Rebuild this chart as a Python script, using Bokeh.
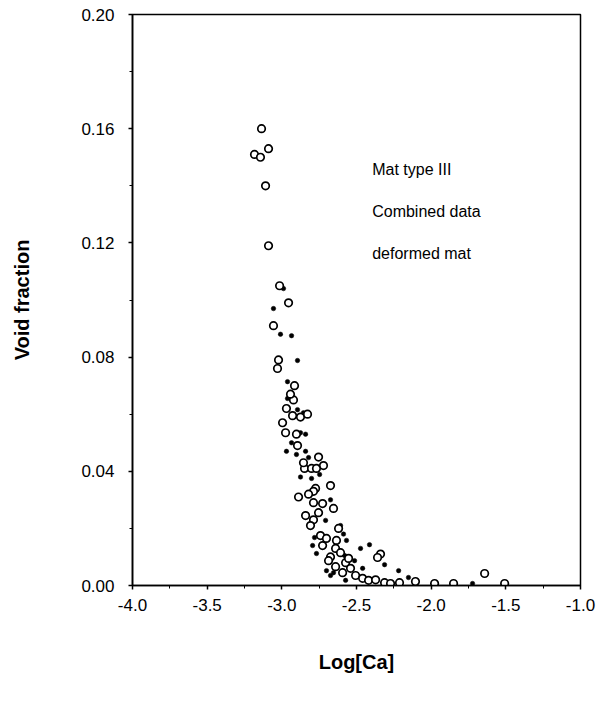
from bokeh.plotting import figure
from bokeh.models import Range1d, SingleIntervalTicker, NumeralTickFormatter, Label, ColumnDataSource
from bokeh.embed import file_html
from bokeh.resources import INLINE

# Open circles: Log[Ca], void fraction
open_x = [-3.136, -3.183, -3.143, -3.089, -3.109, -3.089, -3.015, -2.955, -3.056, -3.022,
          -3.029, -2.915, -2.922, -2.969, -2.928, -2.875, -2.828, -2.995, -2.975, -2.895,
          -2.754, -2.721, -2.848, -2.801, -2.768, -2.674, -2.774, -2.788, -2.888, -2.821,
          -2.788, -2.727, -2.654, -2.754, -2.841, -2.788, -2.808, -2.741, -2.701, -2.634,
          -2.727, -2.640, -2.674, -2.607, -2.339, -2.359, -2.573, -2.540, -2.640, -2.506,
          -2.459, -2.419, -2.372, -2.312, -2.272, -2.212, -2.105, -1.977, -1.850, -1.642,
          -1.508, -2.593, -2.687, -2.553, -2.620, -2.902, -2.855, -2.942]
open_y = [0.160, 0.151, 0.150, 0.153, 0.140, 0.119, 0.105, 0.099, 0.091, 0.079,
          0.076, 0.070, 0.065, 0.062, 0.0595, 0.059, 0.060, 0.057, 0.0535, 0.049,
          0.045, 0.042, 0.041, 0.041, 0.041, 0.035, 0.034, 0.033, 0.031, 0.032,
          0.029, 0.0287, 0.027, 0.0255, 0.0245, 0.023, 0.021, 0.0175, 0.0165, 0.0158,
          0.014, 0.013, 0.010, 0.0115, 0.011, 0.0098, 0.008, 0.006, 0.0066, 0.0035,
          0.0025, 0.0018, 0.002, 0.001, 0.0007, 0.001, 0.0014, 0.0007, 0.0007, 0.0042,
          0.0007, 0.0045, 0.0087, 0.0095, 0.020, 0.053, 0.043, 0.067]

# Filled dots
dot_x = [-3.056, -2.989, -3.009, -2.935, -2.895, -2.962, -2.895, -2.855, -2.875, -2.841,
         -2.935, -2.969, -2.902, -2.821, -2.875, -2.747, -2.674, -2.607, -2.587, -2.781,
         -2.567, -2.768, -2.413, -2.580, -2.513, -2.701, -2.654, -2.312, -2.218, -2.152,
         -1.723, -2.473, -2.707, -2.841, -2.794, -2.674, -2.573, -2.459, -2.962, -2.801]
dot_y = [0.097, 0.104, 0.088, 0.0875, 0.0788, 0.0714, 0.0616, 0.0605, 0.0535, 0.053,
         0.050, 0.047, 0.0459, 0.0448, 0.038, 0.0389, 0.030, 0.021, 0.018, 0.0168,
         0.0158, 0.0112, 0.0143, 0.0105, 0.0087, 0.0052, 0.0045, 0.0073, 0.0052, 0.0028,
         0.0007, 0.013, 0.0228, 0.047, 0.014, 0.0035, 0.0018, 0.006, 0.0655, 0.0375]

notes = ["Mat type III", "Combined data", "deformed mat"]
notes_y = [0.1456, 0.1310, 0.1164]
notes_x = -2.395

FONT = "Liberation Sans"

p = figure(width=604, height=708, output_backend="svg", toolbar_location=None,
           x_range=Range1d(-4.0, -1.0), y_range=Range1d(0.0, 0.20),
           min_border_left=132, min_border_right=24, min_border_top=14, min_border_bottom=123)
p.background_fill_color = "white"
p.border_fill_color = "white"
p.outline_line_color = "black"
p.outline_line_width = 1.5
p.xgrid.visible = False
p.ygrid.visible = False

p.xaxis.ticker = SingleIntervalTicker(interval=0.5, num_minor_ticks=2)
p.yaxis.ticker = SingleIntervalTicker(interval=0.04, num_minor_ticks=2)
p.xaxis.formatter = NumeralTickFormatter(format="0.0")
p.yaxis.formatter = NumeralTickFormatter(format="0.00")

for ax in (p.xaxis[0], p.yaxis[0]):
    ax.axis_line_color = "black"
    ax.axis_line_width = 1.6
    ax.major_tick_line_color = "black"
    ax.major_tick_line_width = 1.5
    ax.major_tick_in = 0
    ax.major_tick_out = 4
    ax.minor_tick_line_color = "black"
    ax.minor_tick_in = 0
    ax.minor_tick_out = 3
    ax.major_label_text_font = FONT
    ax.major_label_text_font_size = "17px"
    ax.major_label_text_color = "black"
    ax.axis_label_text_font = FONT
    ax.axis_label_text_font_style = "bold"
    ax.axis_label_text_font_size = "20px"
    ax.axis_label_text_color = "black"

p.xaxis.axis_label = "Log[Ca]"
p.xaxis.axis_label_standoff = 37
p.xaxis.major_label_standoff = 9
p.yaxis.axis_label = "Void fraction"
p.yaxis.axis_label_standoff = 45
p.yaxis.major_label_standoff = 14

src_open = ColumnDataSource(dict(x=open_x, y=open_y))
src_dot = ColumnDataSource(dict(x=dot_x, y=dot_y))
p.scatter("x", "y", source=src_dot, size=4.5, marker="circle",
          fill_color="black", line_color="black", line_width=0.5)
p.scatter("x", "y", source=src_open, size=7.5, marker="circle",
          fill_color="white", line_color="black", line_width=1.7)

for t, yy in zip(notes, notes_y):
    p.add_layout(Label(x=notes_x, y=yy, text=t, text_font=FONT, text_font_size="16px",
                       text_color="black", text_baseline="middle", text_align="left"))

open("out.html", "w").write(file_html(p, INLINE))
